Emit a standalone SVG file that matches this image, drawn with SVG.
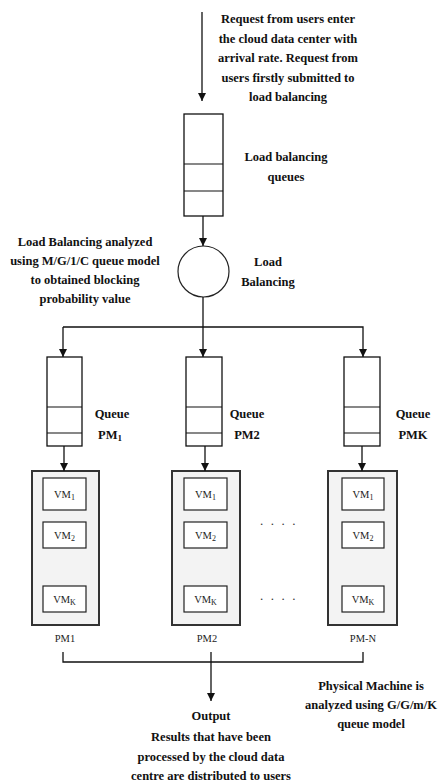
<svg xmlns="http://www.w3.org/2000/svg" width="442" height="782" viewBox="0 0 442 782">
  <style>
    .lbl { font-family: "Liberation Serif", "Times New Roman", serif; font-weight: bold; font-size: 12.5px; fill: #111; text-anchor: middle; }
    .sm { font-family: "Liberation Serif", "Times New Roman", serif; font-size: 10.5px; fill: #222; text-anchor: middle; }
    .q { fill: #fff; stroke: #111; stroke-width: 1.3; }
    .div { stroke: #111; stroke-width: 1.1; }
    .pm { fill: #f3f3f3; stroke: #333; stroke-width: 2; }
    .vm { fill: #fff; stroke: #222; stroke-width: 1.2; }
    .ln { fill: none; stroke: #111; stroke-width: 1.3; }
    .dots { font-family: "Liberation Serif", serif; font-size: 13px; fill: #333; }
  </style>
  <defs>
    <marker id="ah" viewBox="0 0 10 10" refX="10" refY="5" markerWidth="8" markerHeight="8" markerUnits="userSpaceOnUse" orient="auto">
      <path d="M0,0 L10,5 L0,10 z" fill="#111"/>
    </marker>
  </defs>

  <!-- incoming request text -->
  <g id="request-note">
    <text class="lbl" x="288" y="23">Request from users enter</text>
    <text class="lbl" x="288" y="43">the cloud data center with</text>
    <text class="lbl" x="288" y="62">arrival rate. Request from</text>
    <text class="lbl" x="288" y="82">users firstly submitted to</text>
    <text class="lbl" x="288" y="101">load balancing</text>
  </g>

  <!-- load balancing queue -->
  <g id="lb-queue">
    <rect class="q" x="184" y="114" width="39" height="102"/>
    <line class="div" x1="184" y1="164" x2="223" y2="164"/>
    <line class="div" x1="184" y1="191" x2="223" y2="191"/>
    <text class="lbl" x="286" y="161">Load balancing</text>
    <text class="lbl" x="286" y="181">queues</text>
  </g>

  <!-- load balancer -->
  <g id="load-balancer">
    <circle cx="203.5" cy="271.5" r="25.5" fill="#fff" stroke="#222" stroke-width="1.2"/>
    <text class="lbl" x="268" y="266">Load</text>
    <text class="lbl" x="268" y="286">Balancing</text>
  </g>

  <g id="lb-note">
    <text class="lbl" x="85" y="246">Load Balancing analyzed</text>
    <text class="lbl" x="85" y="265">using M/G/1/C queue model</text>
    <text class="lbl" x="85" y="284">to obtained blocking</text>
    <text class="lbl" x="85" y="303">probability value</text>
  </g>

  <!-- per-machine queues -->
  <g id="queue-pm1">
    <rect class="q" x="47" y="357" width="35" height="89"/>
    <line class="div" x1="47" y1="407" x2="82" y2="407"/>
    <line class="div" x1="47" y1="433" x2="82" y2="433"/>
    <text class="lbl" x="112" y="418">Queue</text>
    <text class="lbl" x="110" y="439">PM<tspan font-size="9" dy="2">1</tspan></text>
  </g>
  <g id="queue-pm2">
    <rect class="q" x="186" y="357" width="36" height="89"/>
    <line class="div" x1="186" y1="407" x2="222" y2="407"/>
    <line class="div" x1="186" y1="433" x2="222" y2="433"/>
    <text class="lbl" x="247" y="418">Queue</text>
    <text class="lbl" x="247" y="439">PM2</text>
  </g>
  <g id="queue-pmk">
    <rect class="q" x="344" y="357" width="36" height="89"/>
    <line class="div" x1="344" y1="407" x2="380" y2="407"/>
    <line class="div" x1="344" y1="433" x2="380" y2="433"/>
    <text class="lbl" x="413" y="418">Queue</text>
    <text class="lbl" x="413" y="439">PMK</text>
  </g>

  <!-- physical machines -->
  <g id="pm1">
    <rect class="pm" x="32" y="471" width="67" height="154"/>
    <rect class="vm" x="43" y="478" width="43" height="32"/>
    <text class="sm" x="64.5" y="498">VM<tspan font-size="8" dy="2">1</tspan></text>
    <rect class="vm" x="43" y="522" width="43" height="26"/>
    <text class="sm" x="64.5" y="539">VM<tspan font-size="8" dy="2">2</tspan></text>
    <rect class="vm" x="43" y="586" width="43" height="26"/>
    <text class="sm" x="64.5" y="603">VM<tspan font-size="8" dy="2">K</tspan></text>
    <text class="sm" x="65" y="642">PM1</text>
  </g>
  <g id="pm2">
    <rect class="pm" x="172" y="471" width="68" height="154"/>
    <rect class="vm" x="184" y="478" width="43" height="32"/>
    <text class="sm" x="205.5" y="498">VM<tspan font-size="8" dy="2">1</tspan></text>
    <rect class="vm" x="184" y="522" width="43" height="26"/>
    <text class="sm" x="205.5" y="539">VM<tspan font-size="8" dy="2">2</tspan></text>
    <rect class="vm" x="184" y="586" width="43" height="26"/>
    <text class="sm" x="205.5" y="603">VM<tspan font-size="8" dy="2">K</tspan></text>
    <text class="sm" x="207" y="642">PM2</text>
  </g>
  <g id="pmn">
    <rect class="pm" x="328" y="471" width="69" height="154"/>
    <rect class="vm" x="342" y="478" width="42" height="32"/>
    <text class="sm" x="363" y="498">VM<tspan font-size="8" dy="2">1</tspan></text>
    <rect class="vm" x="342" y="522" width="42" height="26"/>
    <text class="sm" x="363" y="539">VM<tspan font-size="8" dy="2">2</tspan></text>
    <rect class="vm" x="342" y="586" width="42" height="26"/>
    <text class="sm" x="363" y="603">VM<tspan font-size="8" dy="2">K</tspan></text>
    <text class="sm" x="363" y="642">PM-N</text>
  </g>

  <g id="ellipsis">
    <text class="dots" x="260" y="525" letter-spacing="7.5">....</text>
    <text class="dots" x="260" y="600" letter-spacing="7.5">....</text>
  </g>

  <g id="pm-note">
    <text class="lbl" x="371" y="690">Physical Machine is</text>
    <text class="lbl" x="371" y="709">analyzed using G/G/m/K</text>
    <text class="lbl" x="371" y="728">queue model</text>
  </g>

  <g id="output">
    <text class="lbl" x="211" y="720">Output</text>
    <text class="lbl" x="211" y="741">Results that have been</text>
    <text class="lbl" x="211" y="761">processed by the cloud data</text>
    <text class="lbl" x="211" y="780">centre are distributed to users</text>
  </g>

  <!-- connectors -->
  <g id="connectors">
    <line class="ln" x1="202" y1="12" x2="202" y2="101" marker-end="url(#ah)"/>
    <line class="ln" x1="203" y1="216" x2="203" y2="246" marker-end="url(#ah)"/>
    <line class="ln" x1="203" y1="297" x2="203" y2="357" marker-end="url(#ah)"/>
    <polyline class="ln" points="63,327 363,327 363,357" marker-end="url(#ah)"/>
    <line class="ln" x1="63" y1="327" x2="63" y2="357" marker-end="url(#ah)"/>
    <line class="ln" x1="64" y1="446" x2="64" y2="471" marker-end="url(#ah)"/>
    <line class="ln" x1="205" y1="446" x2="205" y2="471" marker-end="url(#ah)"/>
    <line class="ln" x1="362" y1="446" x2="362" y2="471" marker-end="url(#ah)"/>
    <polyline class="ln" points="63,652 63,662 363,662 363,652"/>
    <line class="ln" x1="211" y1="652" x2="211" y2="701" marker-end="url(#ah)"/>
  </g>
</svg>
